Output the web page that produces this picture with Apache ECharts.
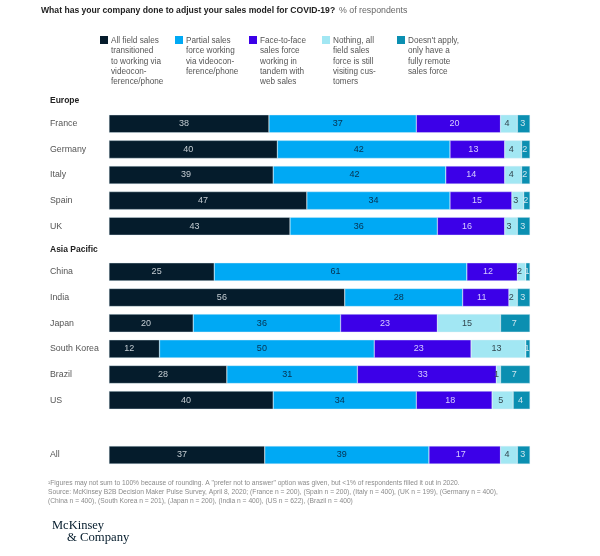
<!DOCTYPE html>
<html>
<head>
<meta charset="utf-8">
<title>Sales model</title>
<script src="https://cdn.jsdelivr.net/npm/echarts@6/dist/echarts.min.js"></script>
<style>
html, body { margin: 0; padding: 0; background: #fff; }
#chart { width: 600px; height: 556px; }
</style>
</head>
<body>
<div id="chart"></div>
<script>
var seriesNames = [
	'All field sales\ntransitioned\nto working via\nvideocon-\nference/phone',
	'Partial sales\nforce working\nvia videocon-\nference/phone',
	'Face-to-face\nsales force\nworking in\ntandem with\nweb sales',
	'Nothing, all\nfield sales\nforce is still\nvisiting cus-\ntomers',
	'Doesn\'t apply,\nonly have a\nfully remote\nsales force'
];
var europe = ['France', 'Germany', 'Italy', 'Spain', 'UK'];
var asiaPacific = ['China', 'India', 'Japan', 'South Korea', 'Brazil', 'US'];
var overall = ['All'];

// numbers printed on the bars
var allField = [38, 40, 39, 47, 43, 25, 56, 20, 12, 28, 40, 37];
var partial = [37, 42, 42, 34, 36, 61, 28, 36, 50, 31, 34, 39];
var faceToFace = [20, 13, 14, 15, 16, 12, 11, 23, 23, 33, 18, 17];
var nothing = [4, 4, 4, 3, 3, 2, 2, 15, 13, 1, 5, 4];
var doesntApply = [3, 2, 2, 2, 3, 1, 3, 7, 1, 7, 4, 3];

// segment lengths, they do not always agree with the printed numbers
var allFieldLen = [38, 40, 39, 47, 43, 25, 56, 20, 12, 28, 39, 37];
var partialLen = [35, 41, 41, 34, 35, 60, 28, 35, 51, 31, 34, 39];
var faceToFaceLen = [20, 13, 14, 14.7, 16, 12, 11, 23, 23, 33, 18, 17];
var nothingLen = [4, 4, 4, 2.8, 3, 2, 2, 15, 13, 1, 5, 4];
var doesntApplyLen = [3, 2, 2, 1.5, 3, 1, 3, 7, 1, 7, 4, 3];

var colors = ['#051c2c', '#00a9f4', '#3c00e8', '#a2e7f3', '#0b8fb1'];
var labelColors = ['#c4ccd2', '#06314f', '#d6ccff', '#33474f', '#cfe6ee'];
var labelShift = [-5, -5, -4, -2, -1];
var font = '"Liberation Sans", sans-serif';

var printed = [allField, partial, faceToFace, nothing, doesntApply];
var lengths = [allFieldLen, partialLen, faceToFaceLen, nothingLen, doesntApplyLen];

var groups = [
	{ cats: europe, start: 0, top: 111, height: 128 },
	{ cats: asiaPacific, start: 5, top: 259, height: 154 },
	{ cats: overall, start: 11, top: 442, height: 26 }
];

var grids = [], xAxes = [], yAxes = [], series = [];
groups.forEach(function (g, gi) {
	grids.push({ left: 109, right: 70, top: g.top, height: g.height });
	xAxes.push({ gridIndex: gi, type: 'value', min: 0, max: 100, show: false });
	yAxes.push({
		gridIndex: gi,
		type: 'category',
		inverse: true,
		data: g.cats,
		axisLine: { show: false },
		axisTick: { show: false },
		axisLabel: { align: 'left', margin: 59, fontFamily: font, fontSize: 8.8, color: '#555' }
	});
	lengths.forEach(function (col, si) {
		series.push({
			type: 'bar',
			name: seriesNames[si],
			stack: 'g' + gi,
			xAxisIndex: gi,
			yAxisIndex: gi,
			barWidth: 18,
			silent: true,
			itemStyle: { color: colors[si], borderColor: '#dff1f8', borderWidth: 0.4 },
			label: {
				show: true,
				position: 'inside',
				offset: [labelShift[si], 0],
				fontFamily: font,
				fontSize: 9,
				color: labelColors[si],
				formatter: function (p) { return printed[si][g.start + p.dataIndex]; }
			},
			data: col.slice(g.start, g.start + g.cats.length)
		});
	});
});

var legendX = [100, 175, 249, 322, 397];
var graphics = [
	{ type: 'text', left: 41, top: 6, style: { text: 'What has your company done to adjust your sales model for COVID-19?', font: 'bold 8.6px ' + font, fill: '#222' } },
	{ type: 'text', left: 339, top: 6, style: { text: '% of respondents', font: '8.8px ' + font, fill: '#666' } },
	{ type: 'text', left: 50, top: 96, style: { text: 'Europe', font: 'bold 8.5px ' + font, fill: '#222' } },
	{ type: 'text', left: 50, top: 245, style: { text: 'Asia Pacific', font: 'bold 8.5px ' + font, fill: '#222' } },
	{ type: 'text', left: 48, top: 479, style: {
		text: '\u00b9Figures may not sum to 100% because of rounding. A "prefer not to answer" option was given, but <1% of respondents filled it out in 2020.\nSource: McKinsey B2B Decision Maker Pulse Survey, April 8, 2020; (France n = 200), (Spain n = 200), (Italy n = 400), (UK n = 199), (Germany n = 400),\n(China n = 400), (South Korea n = 201), (Japan n = 200), (India n = 400), (US n = 622), (Brazil n = 400)',
		font: '6.7px ' + font, fill: '#8a8a8a', lineHeight: 9
	} },
	{ type: 'text', left: 52, top: 519, style: { text: 'McKinsey', font: '12.5px "Liberation Serif", serif', fill: '#051c2c' } },
	{ type: 'text', left: 67, top: 531, style: { text: '& Company', font: '12.7px "Liberation Serif", serif', fill: '#051c2c' } }
];
seriesNames.forEach(function (name, i) {
	graphics.push({ type: 'rect', shape: { x: legendX[i], y: 36, width: 8, height: 8 }, style: { fill: colors[i] } });
	graphics.push({ type: 'text', left: legendX[i] + 11, top: 35.5, style: { text: name, font: '8.2px ' + font, fill: '#555', lineHeight: 10.3 } });
});

var chart = echarts.init(document.getElementById('chart'));
chart.setOption({
	animation: false,
	backgroundColor: '#fff',
	grid: grids,
	xAxis: xAxes,
	yAxis: yAxes,
	series: series,
	graphic: graphics
});
</script>
</body>
</html>
